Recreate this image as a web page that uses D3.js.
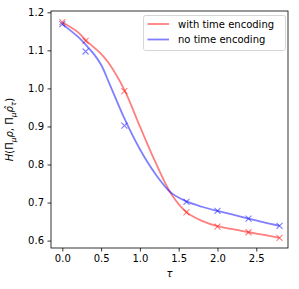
<!DOCTYPE html>
<html>
<head>
<meta charset="utf-8">
<script src="https://cdn.jsdelivr.net/npm/d3@7"></script>
<style>
body { margin: 0; background: white; }
text { font-family: "DejaVu Sans", sans-serif; }
</style>
</head>
<body>
<script>
"use strict";

// measured points (crosses)
var tauPoints = [0.0, 0.3, 0.8, 1.6, 2.0, 2.4, 2.8];
var withTimePoints = [1.174, 1.125, 0.993, 0.674, 0.637, 0.622, 0.607];
var noTimePoints = [1.169, 1.097, 0.902, 0.702, 0.678, 0.658, 0.639];

// smooth curves
var tauCurve = [0.0, 0.2, 0.3, 0.4, 0.5, 0.6, 0.8, 1.0, 1.2, 1.4, 1.6, 1.8, 2.0, 2.2, 2.4, 2.6, 2.8];
var withTimeCurve = [1.174, 1.148, 1.127, 1.109, 1.091, 1.066, 0.996, 0.900, 0.806, 0.724, 0.675, 0.652, 0.638, 0.630, 0.622, 0.615, 0.607];
var noTimeCurve = [1.169, 1.136, 1.115, 1.092, 1.062, 1.016, 0.921, 0.840, 0.775, 0.726, 0.703, 0.689, 0.678, 0.668, 0.658, 0.648, 0.639];

var xTicks = [0.0, 0.5, 1.0, 1.5, 2.0, 2.5];
var yTicks = [0.6, 0.7, 0.8, 0.9, 1.0, 1.1, 1.2];
var seriesNames = ["with time encoding", "no time encoding"];
var seriesColors = ["rgba(255,0,0,0.5)", "rgba(0,0,255,0.5)"];

var widthEcran = 299, heightEcran = 289;
var mLeft = 51, mRight = 288, mTop = 11, mBottom = 248;

var canvas = d3.select("body")
    .append("svg")
    .attr("width", widthEcran)
    .attr("height", heightEcran);

var x = d3.scaleLinear().domain([-0.146, 2.909]).range([mLeft, mRight]);
var y = d3.scaleLinear().domain([0.5806, 1.2034]).range([mBottom, mTop]);

function drawSeries(taus, curve, pts, color) {
    var line = d3.line()
        .x(function (d, i) { return x(taus[i]); })
        .y(function (d) { return y(d); })
        .curve(d3.curveCatmullRom.alpha(0.5));
    canvas.append("path")
        .datum(curve)
        .attr("d", line)
        .attr("fill", "none")
        .attr("stroke", color)
        .attr("stroke-width", 1.8)
        .attr("stroke-linejoin", "round");
    canvas.selectAll(null)
        .data(pts)
        .enter()
        .append("path")
        .attr("d", function (d, i) {
            var cx = x(tauPoints[i]), cy = y(d), r = 3;
            return "M" + (cx - r) + "," + (cy - r) + "L" + (cx + r) + "," + (cy + r) +
                "M" + (cx - r) + "," + (cy + r) + "L" + (cx + r) + "," + (cy - r);
        })
        .attr("stroke", color)
        .attr("stroke-width", 1.1)
        .attr("fill", "none");
}

drawSeries(tauCurve, withTimeCurve, withTimePoints, seriesColors[0]);
drawSeries(tauCurve, noTimeCurve, noTimePoints, seriesColors[1]);

// axes
var xAxis = d3.axisBottom(x).tickValues(xTicks).tickSize(3.5).tickPadding(3.5)
    .tickFormat(d3.format(".1f"));
var yAxis = d3.axisLeft(y).tickValues(yTicks).tickSize(3.5).tickPadding(3.5)
    .tickFormat(d3.format(".1f"));

var gx = canvas.append("g").attr("transform", "translate(0," + mBottom + ")").call(xAxis);
var gy = canvas.append("g").attr("transform", "translate(" + mLeft + ",0)").call(yAxis);
[gx, gy].forEach(function (g) {
    g.select(".domain").remove();
    g.selectAll("line").attr("stroke", "black").attr("stroke-width", 0.8);
    g.selectAll("text").attr("font-size", 10).attr("fill", "black")
        .attr("font-family", "DejaVu Sans");
});

canvas.append("rect")
    .attr("x", mLeft)
    .attr("y", mTop)
    .attr("width", mRight - mLeft)
    .attr("height", mBottom - mTop)
    .attr("fill", "none")
    .attr("stroke", "black")
    .attr("stroke-width", 0.8);

// labels
canvas.append("text")
    .attr("x", (mLeft + mRight) / 2)
    .attr("y", 277)
    .attr("text-anchor", "middle")
    .attr("font-size", 10)
    .attr("font-style", "italic")
    .text("τ");

var ylab = canvas.append("text")
    .attr("transform", "translate(13," + ((mTop + mBottom) / 2) + ") rotate(-90)")
    .attr("text-anchor", "middle")
    .attr("font-size", 10);
var parts = [
    ["H", "italic", 0], ["(Π", "normal", 0], ["μ", "italic", 1], ["ρ", "italic", 0],
    [", Π", "normal", 0], ["μ", "italic", 1], ["ρ̂", "italic", 0], ["τ", "italic", 1], [")", "normal", 0]
];
var shifted = false;
parts.forEach(function (p) {
    var dy = 0;
    if (p[2] && !shifted) { dy = 2.5; shifted = true; }
    else if (!p[2] && shifted) { dy = -2.5; shifted = false; }
    ylab.append("tspan")
        .attr("dy", dy)
        .attr("font-style", p[1])
        .attr("font-size", p[2] ? 7.5 : 10)
        .text(p[0]);
});

// legend
canvas.append("rect")
    .attr("x", 143.5)
    .attr("y", 15.5)
    .attr("width", 142)
    .attr("height", 35)
    .attr("rx", 2)
    .attr("fill", "white")
    .attr("fill-opacity", 0.8)
    .attr("stroke", "#cccccc")
    .attr("stroke-width", 0.8);

seriesNames.forEach(function (name, i) {
    var ly = 24 + i * 15.5;
    canvas.append("line")
        .attr("x1", 147.5)
        .attr("x2", 169)
        .attr("y1", ly)
        .attr("y2", ly)
        .attr("stroke", seriesColors[i])
        .attr("stroke-width", 1.8);
    canvas.append("text")
        .attr("x", 178)
        .attr("y", ly + 3.6)
        .attr("font-size", 10)
        .text(name);
});
</script>
</body>
</html>
